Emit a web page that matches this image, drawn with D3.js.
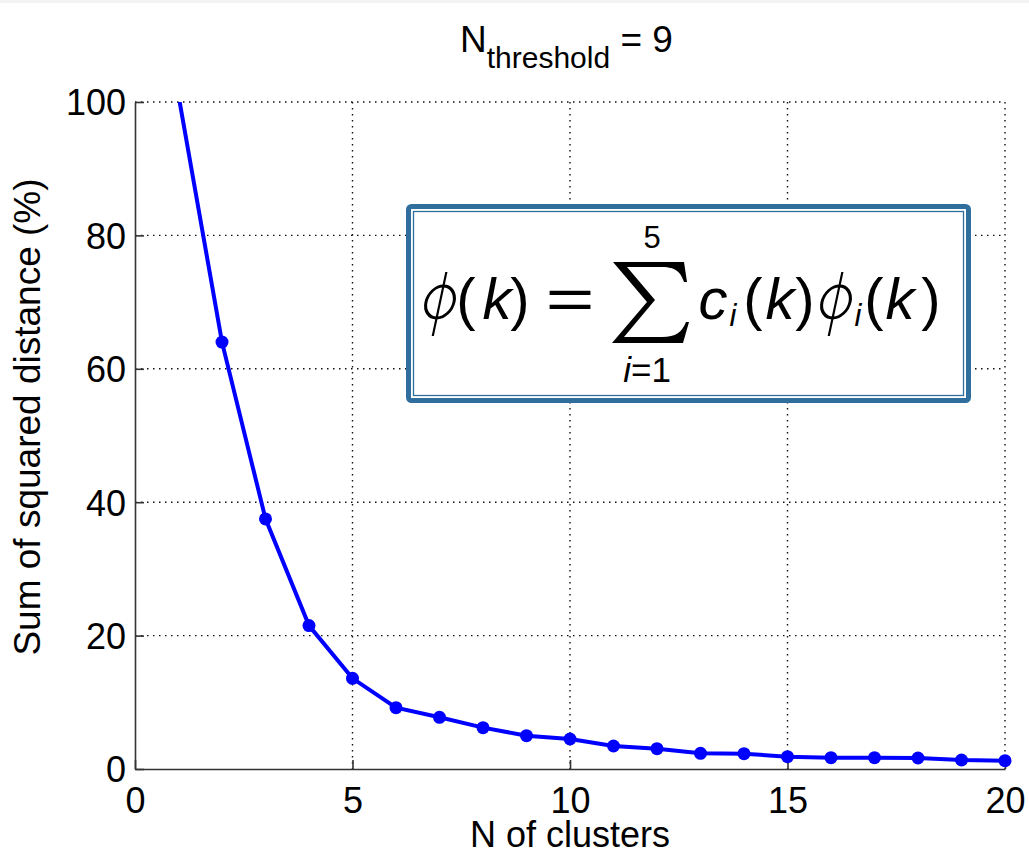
<!DOCTYPE html>
<html>
<head>
<meta charset="utf-8">
<script src="https://cdn.jsdelivr.net/npm/d3@7"></script>
<style>
	body { margin: 0; background: #fff; }
	text { font-family: "Liberation Sans", Arial, sans-serif; fill: #000; }
</style>
</head>
<body>
<div id="chart"></div>
<script>
// donnees
const clusters = [1, 2, 3, 4, 5, 6, 7, 8, 9, 10, 11, 12, 13, 14, 15, 16, 17, 18, 19, 20];
const sumSq = [101, 64, 37.5, 21.5, 13.6, 9.2, 7.75, 6.2, 5.0, 4.5, 3.45, 3.05, 2.35, 2.3, 1.85, 1.7, 1.7, 1.65, 1.35, 1.25];
const xTicks = [0, 5, 10, 15, 20];
const yTicks = [0, 20, 40, 60, 80, 100];

const width = 1029, height = 853;
const margin = {left: 135, right: 1005, top: 102, bottom: 769};

const svg = d3.select("#chart")
	.append("svg")
	.attr("width", width)
	.attr("height", height);

svg.append("rect").attr("x", 0).attr("y", 0).attr("width", width).attr("height", 3).attr("fill", "#f3f3f3");

const x = d3.scaleLinear().domain([0, 20]).range([margin.left, margin.right]);
const y = d3.scaleLinear().domain([0, 100]).range([margin.bottom, margin.top]);

// grille pointillee
const grid = svg.append("g");
grid.selectAll("line.gx")
	.data(xTicks.slice(1))
	.enter()
	.append("line")
	.attr("x1", d => x(d)).attr("x2", d => x(d))
	.attr("y1", margin.top).attr("y2", margin.bottom)
	.style("stroke", "#111")
	.style("stroke-width", 1.4)
	.style("stroke-dasharray", "1.5,4.5");
grid.selectAll("line.gy")
	.data(yTicks.slice(1))
	.enter()
	.append("line")
	.attr("y1", d => y(d)).attr("y2", d => y(d))
	.attr("x1", margin.left).attr("x2", margin.right)
	.style("stroke", "#111")
	.style("stroke-width", 1.4)
	.style("stroke-dasharray", "1.5,4.5");

// axes
const xAxis = svg.append("g")
	.attr("transform", "translate(0," + margin.bottom + ")")
	.call(d3.axisBottom(x).tickValues(xTicks).tickSizeInner(-9).tickSizeOuter(0).tickPadding(18));
const yAxis = svg.append("g")
	.attr("transform", "translate(" + margin.left + ",0)")
	.call(d3.axisLeft(y).tickValues(yTicks).tickSizeInner(-9).tickSizeOuter(0).tickPadding(9));
[xAxis, yAxis].forEach(function(a) {
	a.select(".domain").style("stroke", "#333").style("stroke-width", 1.6);
	a.selectAll(".tick line").style("stroke", "#333").style("stroke-width", 1.6);
	a.selectAll(".tick text")
		.style("font-family", "Liberation Sans, Arial, sans-serif")
		.style("font-size", "36px")
		.attr("fill", "#000");
});
yAxis.selectAll(".tick text").attr("dy", "0.36em");

// courbe
svg.append("clipPath").attr("id", "clip")
	.append("rect")
	.attr("x", margin.left).attr("y", margin.top)
	.attr("width", margin.right - margin.left + 8)
	.attr("height", margin.bottom - margin.top + 8);

const pts = clusters.map((c, i) => [c, sumSq[i]]);
const plot = svg.append("g").attr("clip-path", "url(#clip)");
plot.append("path")
	.datum(pts)
	.attr("d", d3.line().x(d => x(d[0])).y(d => y(d[1])))
	.style("fill", "none")
	.style("stroke", "#0000ff")
	.style("stroke-width", 4);
plot.selectAll("circle")
	.data(pts).enter()
	.append("circle")
	.attr("cx", d => x(d[0]))
	.attr("cy", d => y(d[1]))
	.attr("r", 6.5)
	.attr("fill", "#0000ff");

// titres
const title = svg.append("text")
	.attr("x", 460).attr("y", 52)
	.style("font-size", "37px");
title.append("tspan").text("N");
title.append("tspan").attr("dy", 16).style("font-size", "30px").text("threshold");
title.append("tspan").attr("dy", -16).text(" = 9");

svg.append("text")
	.attr("x", x(10)).attr("y", 847)
	.attr("text-anchor", "middle")
	.style("font-size", "36px")
	.text("N of clusters");

svg.append("text")
	.attr("transform", "translate(40,417) rotate(-90)")
	.attr("text-anchor", "middle")
	.style("font-size", "37px")
	.text("Sum of squared distance (%)");

// encadre avec la formule
const box = svg.append("g");
box.append("rect")
	.attr("x", 408.5).attr("y", 206.5).attr("width", 560).attr("height", 194)
	.attr("rx", 3)
	.attr("fill", "#fff")
	.style("stroke", "#306e9e")
	.style("stroke-width", 5);
box.append("rect")
	.attr("x", 413.5).attr("y", 211.5).attr("width", 550).attr("height", 184)
	.attr("fill", "none")
	.style("stroke", "#306e9e")
	.style("stroke-width", 1.3);

const eq = box.append("g").style("font-size", "58px");
const glyphs = [
	{t: "(", cx: 466},
	{t: "k", cx: 497, it: true},
	{t: ")", cx: 520},
	{t: "c", cx: 713, it: true},
	{t: "(", cx: 753},
	{t: "k", cx: 780, it: true},
	{t: ")", cx: 805},
	{t: "(", cx: 874},
	{t: "k", cx: 900, it: true},
	{t: ")", cx: 931}
];
eq.selectAll("text.g")
	.data(glyphs).enter()
	.append("text")
	.attr("x", d => d.cx).attr("y", 319)
	.attr("text-anchor", "middle")
	.style("font-style", d => d.it ? "italic" : "normal")
	.text(d => d.t);

// phi en trait fin (cercle barre)
eq.selectAll("g.phi")
	.data([440, 836]).enter()
	.append("g")
	.attr("transform", d => "translate(" + d + ",302) skewX(-12)")
	.each(function() {
		const g = d3.select(this);
		g.append("ellipse").attr("rx", 14).attr("ry", 16)
			.attr("fill", "none").style("stroke", "#000").style("stroke-width", 3);
		g.append("line").attr("x1", 0).attr("x2", 0).attr("y1", -30).attr("y2", 34)
			.style("stroke", "#000").style("stroke-width", 2.2);
	});

// signe egal
eq.append("text")
	.attr("transform", "translate(570,319) scale(1.45,1)")
	.attr("text-anchor", "middle")
	.text("=");

eq.selectAll("text.s")
	.data([733, 858]).enter()
	.append("text")
	.attr("x", d => d).attr("y", 326)
	.attr("text-anchor", "middle")
	.style("font-size", "31px")
	.style("font-style", "italic")
	.text("i");

// grand sigma
eq.append("path")
	.attr("d", "M613,262 L684,262 L687,282 L684,282 C680,270 674,267 660,267 L627,267 L655,300 L624,337 L662,337 C676,337 682,332 686,322 L689,322 L683,343 L612,343 L647,302 Z")
	.attr("fill", "#000");
eq.append("text")
	.attr("x", 652).attr("y", 248)
	.attr("text-anchor", "middle")
	.style("font-size", "31px")
	.text("5");
const sub = eq.append("text")
	.attr("x", 647).attr("y", 382)
	.attr("text-anchor", "middle")
	.style("font-size", "35px");
sub.append("tspan").style("font-style", "italic").text("i");
sub.append("tspan").text("=1");
</script>
</body>
</html>
